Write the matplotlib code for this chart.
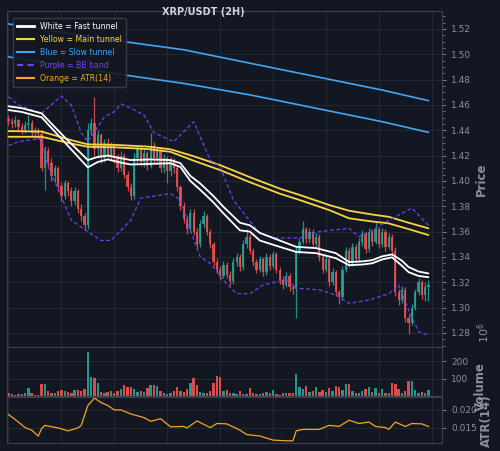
import matplotlib
matplotlib.use("Agg")
import matplotlib.pyplot as plt
from matplotlib.lines import Line2D
from matplotlib.ticker import AutoMinorLocator, MultipleLocator, FormatStrFormatter
import numpy as np

# ---- candle data (2H bars) ----
opens = [1.449, 1.447, 1.445, 1.448, 1.443, 1.440, 1.444, 1.446, 1.438, 1.440,
         1.437, 1.410, 1.424, 1.414, 1.404, 1.410, 1.396, 1.388, 1.398, 1.392,
         1.384, 1.392, 1.378, 1.372, 1.365, 1.440, 1.446, 1.425, 1.436, 1.418,
         1.430, 1.420, 1.428, 1.418, 1.410, 1.420, 1.405, 1.395, 1.388, 1.418,
         1.425, 1.415, 1.422, 1.412, 1.428, 1.418, 1.424, 1.410, 1.418, 1.408,
         1.416, 1.410, 1.395, 1.380, 1.370, 1.362, 1.375, 1.360, 1.350, 1.366,
         1.372, 1.360, 1.350, 1.336, 1.330, 1.325, 1.334, 1.326, 1.321, 1.336,
         1.340, 1.332, 1.350, 1.356, 1.345, 1.336, 1.330, 1.338, 1.328, 1.340,
         1.333, 1.342, 1.330, 1.322, 1.318, 1.325, 1.316, 1.315, 1.345, 1.352,
         1.362, 1.354, 1.360, 1.350, 1.356, 1.340, 1.330, 1.338, 1.320, 1.328,
         1.312, 1.308, 1.330, 1.345, 1.335, 1.348, 1.338, 1.352, 1.358, 1.346,
         1.360, 1.352, 1.362, 1.350, 1.360, 1.348, 1.356, 1.345, 1.312, 1.306,
         1.314, 1.292, 1.288, 1.300, 1.312, 1.320, 1.310, 1.316]
highs = [1.452, 1.450, 1.451, 1.449, 1.446, 1.447, 1.452, 1.448, 1.443, 1.442,
         1.440, 1.428, 1.427, 1.418, 1.413, 1.412, 1.399, 1.401, 1.400, 1.395,
         1.395, 1.394, 1.382, 1.375, 1.446, 1.450, 1.466, 1.440, 1.438, 1.433,
         1.434, 1.431, 1.430, 1.421, 1.424, 1.422, 1.408, 1.398, 1.422, 1.428,
         1.427, 1.425, 1.424, 1.438, 1.431, 1.427, 1.426, 1.421, 1.420, 1.419,
         1.418, 1.412, 1.397, 1.383, 1.373, 1.378, 1.378, 1.363, 1.369, 1.376,
         1.374, 1.362, 1.352, 1.339, 1.333, 1.337, 1.336, 1.329, 1.339, 1.343,
         1.342, 1.353, 1.362, 1.358, 1.347, 1.338, 1.341, 1.340, 1.343, 1.342,
         1.345, 1.344, 1.332, 1.325, 1.328, 1.327, 1.319, 1.348, 1.355, 1.368,
         1.364, 1.363, 1.362, 1.359, 1.358, 1.342, 1.341, 1.340, 1.331, 1.330,
         1.314, 1.333, 1.348, 1.347, 1.351, 1.350, 1.355, 1.361, 1.360, 1.363,
         1.362, 1.368, 1.364, 1.363, 1.362, 1.359, 1.358, 1.348, 1.315, 1.317,
         1.316, 1.295, 1.303, 1.315, 1.323, 1.322, 1.320, 1.322]
lows = [1.444, 1.442, 1.443, 1.440, 1.437, 1.438, 1.441, 1.435, 1.434, 1.433,
        1.408, 1.393, 1.411, 1.400, 1.399, 1.392, 1.384, 1.386, 1.388, 1.380,
        1.381, 1.375, 1.368, 1.361, 1.362, 1.436, 1.420, 1.418, 1.414, 1.415,
        1.417, 1.416, 1.414, 1.407, 1.408, 1.402, 1.392, 1.385, 1.386, 1.414,
        1.412, 1.411, 1.409, 1.410, 1.414, 1.415, 1.407, 1.406, 1.398, 1.404,
        1.406, 1.392, 1.377, 1.367, 1.358, 1.360, 1.357, 1.347, 1.348, 1.363,
        1.357, 1.347, 1.333, 1.327, 1.322, 1.323, 1.323, 1.318, 1.319, 1.333,
        1.329, 1.330, 1.347, 1.342, 1.333, 1.327, 1.328, 1.325, 1.326, 1.330,
        1.331, 1.327, 1.319, 1.315, 1.316, 1.313, 1.311, 1.292, 1.342, 1.350,
        1.351, 1.351, 1.347, 1.348, 1.337, 1.327, 1.328, 1.317, 1.318, 1.309,
        1.303, 1.306, 1.328, 1.332, 1.333, 1.335, 1.336, 1.349, 1.343, 1.344,
        1.349, 1.350, 1.347, 1.348, 1.345, 1.346, 1.342, 1.309, 1.302, 1.304,
        1.289, 1.279, 1.286, 1.298, 1.310, 1.307, 1.305, 1.305]
closes = [1.447, 1.445, 1.448, 1.443, 1.440, 1.444, 1.446, 1.438, 1.440, 1.437,
          1.410, 1.424, 1.414, 1.404, 1.410, 1.396, 1.388, 1.398, 1.392, 1.384,
          1.392, 1.378, 1.372, 1.365, 1.440, 1.446, 1.425, 1.436, 1.418, 1.430,
          1.420, 1.428, 1.418, 1.410, 1.420, 1.405, 1.395, 1.388, 1.418, 1.425,
          1.415, 1.422, 1.412, 1.428, 1.418, 1.424, 1.410, 1.418, 1.408, 1.416,
          1.410, 1.395, 1.380, 1.370, 1.362, 1.375, 1.360, 1.350, 1.366, 1.372,
          1.360, 1.350, 1.336, 1.330, 1.325, 1.334, 1.326, 1.321, 1.336, 1.340,
          1.332, 1.350, 1.356, 1.345, 1.336, 1.330, 1.338, 1.328, 1.340, 1.333,
          1.342, 1.330, 1.322, 1.318, 1.325, 1.316, 1.315, 1.345, 1.352, 1.362,
          1.354, 1.360, 1.350, 1.356, 1.340, 1.330, 1.338, 1.320, 1.328, 1.312,
          1.308, 1.330, 1.345, 1.335, 1.348, 1.338, 1.352, 1.358, 1.346, 1.360,
          1.352, 1.362, 1.350, 1.360, 1.348, 1.356, 1.345, 1.312, 1.306, 1.314,
          1.292, 1.288, 1.300, 1.312, 1.320, 1.310, 1.316, 1.318]
# volume in millions
volumes = [20, 10, 8, 10, 12, 15, 45, 18, 8, 6, 72, 72, 28, 20, 18, 28, 35, 30, 22, 18,
           32, 35, 30, 42, 252, 108, 104, 75, 22, 15, 22, 28, 20, 28, 40, 63, 50, 53, 40, 25,
           28, 25, 45, 63, 63, 60, 30, 15, 12, 15, 28, 49, 30, 25, 40, 77, 104, 66, 25, 18,
           20, 30, 77, 115, 108, 30, 35, 20, 15, 12, 27, 12, 10, 44, 20, 12, 10, 18, 22, 15,
           37, 12, 8, 20, 18, 20, 18, 125, 50, 40, 56, 25, 30, 50, 25, 35, 22, 48, 30, 56,
           52, 35, 70, 70, 30, 20, 15, 28, 38, 50, 22, 48, 20, 40, 15, 20, 77, 70, 40, 15,
           30, 89, 89, 35, 20, 25, 15, 33]

# ---- indicator lines (vertices at bar index) ----
slow_idx = [0, 12, 35, 53, 73, 113, 127]
slow_hi = [1.524, 1.519, 1.510, 1.5036, 1.493, 1.4718, 1.4634]
slow_lo = [1.498, 1.493, 1.4837, 1.477, 1.468, 1.4468, 1.4384]

main_idx = [0, 10, 14, 19, 24, 32, 42, 49, 56, 64, 73, 82, 88, 97, 103, 110, 115, 121, 127]
main_hi = [1.4394, 1.4390, 1.4360, 1.4322, 1.4289, 1.4285, 1.4272, 1.4250, 1.4195, 1.4125,
           1.4030, 1.3940, 1.3890, 1.3810, 1.3765, 1.3735, 1.3717, 1.3670, 1.3626]
main_lo = [1.4349, 1.4349, 1.4325, 1.4295, 1.4270, 1.4266, 1.4252, 1.4230, 1.4160, 1.4086,
           1.3990, 1.3900, 1.3850, 1.3770, 1.3705, 1.3680, 1.3665, 1.3620, 1.3573]

fast_idx = [0, 4, 10, 17, 24, 27, 30, 34, 37, 43, 49, 52, 55, 58, 62, 65, 70, 73, 76, 82,
            87, 90, 93, 99, 103, 107, 110, 113, 116, 119, 121, 124, 127]
fast_hi = [1.459, 1.4575, 1.4534, 1.4345, 1.4165, 1.4190, 1.420, 1.4180, 1.4165, 1.4170,
           1.4165, 1.414, 1.404, 1.398, 1.388, 1.3796, 1.367, 1.365, 1.359, 1.353,
           1.348, 1.3475, 1.347, 1.343, 1.336, 1.3365, 1.3375, 1.3405, 1.342, 1.337,
           1.332, 1.3285, 1.327]
fast_lo = [1.456, 1.4545, 1.4503, 1.4305, 1.4107, 1.4150, 1.417, 1.4145, 1.413, 1.4135,
           1.414, 1.411, 1.400, 1.393, 1.383, 1.3744, 1.361, 1.360, 1.353, 1.348,
           1.344, 1.3435, 1.343, 1.339, 1.3335, 1.3340, 1.335, 1.3380, 1.3397, 1.333,
           1.328, 1.3250, 1.324]

bbu_idx = [0, 3, 10, 16, 19, 22, 24, 29, 32, 34, 37, 41, 44, 50, 56, 61, 64, 68, 72, 76,
           81, 88, 94, 103, 106, 110, 115, 122, 127]
bb_upper = [1.4665, 1.460, 1.4534, 1.467, 1.460, 1.438, 1.431, 1.4507, 1.4547, 1.4607,
            1.4576, 1.452, 1.438, 1.431, 1.4468, 1.4165, 1.4112, 1.385, 1.3717, 1.3586,
            1.355, 1.355, 1.360, 1.3626, 1.356, 1.361, 1.369, 1.3786, 1.365]
bbl_idx = [0, 3, 10, 12, 16, 19, 24, 28, 31, 37, 40, 49, 52, 55, 58, 61, 65, 69, 73, 77,
           81, 84, 87, 94, 99, 103, 109, 115, 118, 121, 124, 127]
bb_lower = [1.428, 1.431, 1.4336, 1.411, 1.3875, 1.369, 1.360, 1.353, 1.353, 1.369,
            1.3865, 1.390, 1.385, 1.361, 1.340, 1.335, 1.3217, 1.311, 1.311, 1.3178,
            1.3204, 1.322, 1.3154, 1.314, 1.310, 1.3033, 1.306, 1.311, 1.3178, 1.298,
            1.281, 1.2783]

atr_idx = [0, 3, 5, 7, 9, 10, 11, 15, 18, 21, 22, 24, 26, 28, 30, 32, 34, 37, 41, 43,
           46, 49, 53, 54, 57, 61, 63, 66, 70, 72, 76, 80, 84, 86, 87, 89, 94, 97, 100,
           103, 106, 109, 111, 114, 115, 117, 120, 122, 125, 127]
atr = [0.01867, 0.0166, 0.0151, 0.0144, 0.0128, 0.0148, 0.0157, 0.0150, 0.0142, 0.0150,
       0.0157, 0.0211, 0.0231, 0.0219, 0.0211, 0.0199, 0.0199, 0.0188, 0.0178, 0.0168,
       0.0175, 0.0153, 0.0154, 0.0150, 0.0169, 0.0151, 0.0162, 0.0161, 0.0144, 0.0132,
       0.0128, 0.0117, 0.0115, 0.0115, 0.0142, 0.0146, 0.0146, 0.0157, 0.0154, 0.0171,
       0.0162, 0.0166, 0.0154, 0.0151, 0.0146, 0.0166, 0.0154, 0.0162, 0.0161, 0.0154]

BG = "#131722"
GRID = "#262b38"
SPINE = "#3b404c"
TXT = "#8c909a"
UP = "#26a69a"
DOWN = "#ef5350"
WHITE = "#ffffff"
YELLOW = "#f9d342"
BLUE = "#42a5f5"
PURPLE = "#7040f0"
ORANGE = "#f5a623"

fig = plt.figure(figsize=(5.0, 4.51), dpi=100, facecolor=BG)
L, W = 0.014, 0.87
ax = fig.add_axes([L, 0.2306, W, 0.745])
axv = fig.add_axes([L, 0.122, W, 0.1086], sharex=ax)
axa = fig.add_axes([L, 0.0177, W, 0.102], sharex=ax)

n = len(closes)
x = np.arange(n)
colors = [UP if c >= o else DOWN for o, c in zip(opens, closes)]

for a in (ax, axv, axa):
    a.set_facecolor(BG)
    for s in a.spines.values():
        s.set_color(SPINE)
    a.yaxis.tick_right()
    a.yaxis.set_label_position("right")
    a.tick_params(axis="y", colors=TXT, labelsize=6.5, length=3, width=0.6)
    a.tick_params(axis="x", bottom=False, labelbottom=False)
    a.xaxis.set_major_locator(MultipleLocator(16))
    a.grid(True, color=GRID, lw=0.6)
    a.set_axisbelow(True)

# candles
for i in range(n):
    ax.vlines(x[i], lows[i], highs[i], color=colors[i], lw=0.9, alpha=0.85, zorder=2)
    lo = min(opens[i], closes[i])
    h = max(abs(closes[i] - opens[i]), 0.0008)
    ax.bar(x[i], h, bottom=lo, width=0.68, color=colors[i], alpha=0.85, zorder=3)

kw = dict(solid_joinstyle="round", solid_capstyle="round")
ax.plot(slow_idx, slow_hi, color=BLUE, lw=1.2, zorder=4, **kw)
ax.plot(slow_idx, slow_lo, color=BLUE, lw=1.2, zorder=4, **kw)
ax.plot(main_idx, main_hi, color=YELLOW, lw=1.3, zorder=4, **kw)
ax.plot(main_idx, main_lo, color=YELLOW, lw=1.3, zorder=4, **kw)
ax.plot(fast_idx, fast_hi, color=WHITE, lw=1.3, zorder=5, **kw)
ax.plot(fast_idx, fast_lo, color=WHITE, lw=1.3, zorder=5, **kw)
ax.plot(bbu_idx, bb_upper, color=PURPLE, lw=0.9, ls=(0, (3, 2)), zorder=4)
ax.plot(bbl_idx, bb_lower, color=PURPLE, lw=0.9, ls=(0, (3, 2)), zorder=4)

ax.set_xlim(-0.45, 131.1)
ax.set_ylim(1.2689, 1.5342)
ax.yaxis.set_major_locator(MultipleLocator(0.02))
ax.yaxis.set_minor_locator(AutoMinorLocator(4))
ax.tick_params(axis="y", which="minor", colors=TXT, length=1.8, width=0.5)
ax.yaxis.set_major_formatter(FormatStrFormatter("%.2f"))
ax.set_ylabel("Price", color=TXT, fontsize=8.5, fontweight="bold")
ax.yaxis.set_label_coords(1.076, 0.5)

handles = [Line2D([], [], color=WHITE, lw=2),
           Line2D([], [], color=YELLOW, lw=1.5),
           Line2D([], [], color=BLUE, lw=1.5),
           Line2D([], [], color=PURPLE, lw=1.5, ls=(0, (3, 2))),
           Line2D([], [], color=ORANGE, lw=1.5)]
labels = ["White = Fast tunnel", "Yellow = Main tunnel", "Blue = Slow tunnel",
          "Purple = BB band", "Orange = ATR(14)"]
leg = ax.legend(handles, labels, loc="upper left", fontsize=5.6, facecolor=BG,
                edgecolor=SPINE, framealpha=0.9, borderpad=0.5, labelspacing=0.5,
                handlelength=2.3, handletextpad=0.7, bbox_to_anchor=(0.004, 0.99))
for t, c in zip(leg.get_texts(), [WHITE, YELLOW, BLUE, PURPLE, ORANGE]):
    t.set_color(c)

fig.text(0.406, 0.973, "XRP/USDT (2H)", color="#d1d4dc", fontsize=7, fontweight="bold",
         ha="center", va="center")

# volume
axv.bar(x, volumes, width=0.72, color=colors, alpha=0.9)
axv.set_ylim(0, 283)
axv.set_yticks([100, 200])
axv.set_ylabel("Volume", color=TXT, fontsize=8.5, fontweight="bold")
axv.yaxis.set_label_coords(1.074, 0.2)
fig.text(0.968, 0.262, r"$10^6$", color=TXT, fontsize=8, rotation=90, ha="center", va="center")

# ATR
axa.plot(atr_idx, atr, color=ORANGE, lw=0.9)
axa.set_ylim(0.0109, 0.0234)
axa.set_yticks([0.015, 0.020])
axa.yaxis.set_major_formatter(FormatStrFormatter("%.3f"))
axa.set_ylabel("ATR(14)", color=TXT, fontsize=8.5, fontweight="bold")
axa.yaxis.set_label_coords(1.087, 0.48)

fig.savefig("out.png", dpi=100, facecolor=BG)
